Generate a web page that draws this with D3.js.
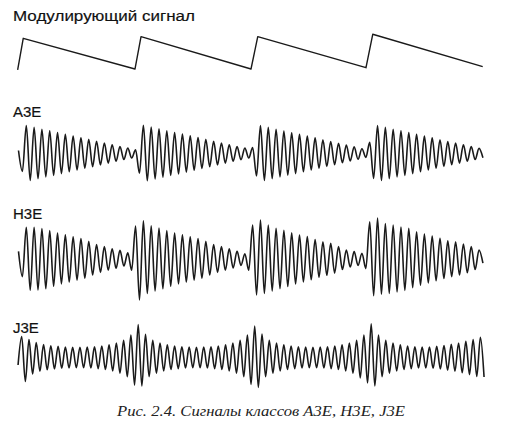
<!DOCTYPE html>
<html><head><meta charset="utf-8">
<script src="https://cdn.jsdelivr.net/npm/d3@7/dist/d3.min.js"></script>
<style>html,body{margin:0;padding:0;background:#fff;}svg{display:block;}</style>
</head><body>
<svg id="c" width="512" height="432"></svg>
<script>
// ---- data (time in modulation periods, amplitudes normalised) ----
const titleText = "Модулирующий сигнал";
const panelLabels = ["A3E", "H3E", "J3E"];
const captionText = "Рис. 2.4. Сигналы классов A3E, H3E, J3E";

// sawtooth modulating signal: breakpoints [time, level]
const sawTimes  = [-0.003, 0.045, 1.004, 1.056, 2.0, 2.058, 2.987, 3.045, 3.989];
const sawLevels = [-0.015, 0.945, 0.015, 0.994, 0.015, 0.994, 0.055, 1.067, 0.085];

// successive extrema (alternating peaks / troughs) of each RF signal
const a3eStart = 0.0043, a3eStep = 0.0335;
const a3eValues = [0.10,-0.60,
 0.93,-0.90,0.87,-0.84,0.81,-0.78,0.76,-0.73,0.70,-0.67,0.64,-0.61,0.58,-0.55,0.52,-0.49,0.47,-0.44,0.41,-0.38,0.35,-0.32,0.29,-0.26,0.23,-0.20,0.18,-0.15,0.12,-0.66,
 0.94,-0.91,0.88,-0.85,0.82,-0.79,0.76,-0.73,0.70,-0.68,0.65,-0.62,0.59,-0.56,0.53,-0.50,0.47,-0.44,0.41,-0.38,0.35,-0.32,0.29,-0.26,0.23,-0.21,0.18,-0.15,0.20,-0.75,
 0.93,-0.90,0.87,-0.84,0.81,-0.78,0.75,-0.72,0.69,-0.67,0.64,-0.61,0.58,-0.55,0.52,-0.49,0.46,-0.43,0.40,-0.37,0.34,-0.31,0.28,-0.25,0.22,-0.19,0.16,-0.13,0.37,-0.83,
 0.93,-0.90,0.87,-0.84,0.81,-0.78,0.76,-0.73,0.70,-0.67,0.64,-0.61,0.58,-0.55,0.52,-0.49,0.46,-0.43,0.40,-0.37,0.35,-0.32,0.29,-0.26,0.23,-0.20,0.17,-0.14];

const h3eStart = 0.0043, h3eStep = 0.0335;
const h3eValues = [0.24,-0.55,
 0.99,-0.98,0.99,-0.97,0.95,-0.93,0.89,-0.85,0.81,-0.78,0.76,-0.72,0.69,-0.66,0.64,-0.60,0.55,-0.50,0.45,-0.42,0.39,-0.35,0.32,-0.29,0.27,-0.22,0.19,-0.35,
 1.03,-1.28,1.19,-1.08,1.04,-1.00,0.97,-0.93,0.89,-0.85,0.81,-0.78,0.76,-0.72,0.69,-0.66,0.64,-0.60,0.55,-0.50,0.45,-0.42,0.39,-0.35,0.32,-0.28,0.24,-0.20,0.16,-0.35,
 1.06,-1.12,1.22,-1.08,1.06,-1.00,0.96,-0.93,0.90,-0.86,0.82,-0.78,0.75,-0.72,0.70,-0.65,0.61,-0.57,0.54,-0.51,0.49,-0.44,0.39,-0.33,0.28,-0.25,0.23,-0.20,0.18,-0.30,
 1.16,-1.15,1.28,-1.10,1.11,-1.08,1.06,-1.03,1.00,-0.98,0.96,-0.90,0.85,-0.82,0.78,-0.75,0.72,-0.68,0.65,-0.61,0.57,-0.55,0.54,-0.50,0.47,-0.43,0.39,-0.33,0.28,-0.13];

const j3eStart = 0.0005, j3eStep = 0.03125;
const j3eValues = [-0.25,
 0.70,-0.80,0.60,-0.55,0.50,-0.46,0.43,-0.41,0.39,-0.38,0.37,-0.36,0.35,-0.35,0.34,-0.34,
 0.34,-0.34,0.35,-0.35,0.36,-0.37,0.38,-0.40,0.42,-0.45,0.48,-0.52,0.57,-0.64,0.75,-0.92,
 1.10,-0.95,0.77,-0.64,0.57,-0.52,0.48,-0.45,0.42,-0.40,0.38,-0.37,0.36,-0.35,0.35,-0.34,
 0.34,-0.34,0.35,-0.35,0.36,-0.37,0.38,-0.40,0.42,-0.45,0.48,-0.52,0.57,-0.64,0.75,-0.90,
 1.05,-1.00,0.78,-0.64,0.57,-0.52,0.48,-0.45,0.42,-0.40,0.38,-0.37,0.36,-0.35,0.35,-0.34,
 0.34,-0.34,0.35,-0.35,0.36,-0.37,0.38,-0.40,0.42,-0.45,0.48,-0.52,0.57,-0.68,0.75,-0.85,
 1.12,-0.95,0.75,-0.64,0.57,-0.52,0.48,-0.45,0.42,-0.40,0.38,-0.37,0.36,-0.35,0.35,-0.35,
 0.35,-0.36,0.37,-0.38,0.40,-0.42,0.44,-0.46,0.48,-0.51,0.54,-0.57,0.60,-0.63,0.67,-0.65];

// ---- drawing ----
const svg = d3.select("#c");
const ink = "#1a1a1a";
const sans = "'Liberation Sans', Arial, sans-serif";
const x = d3.scaleLinear().domain([0, 4]).range([18, 484]);

svg.append("text").attr("x", 13).attr("y", 21)
  .attr("font-family", sans).attr("font-size", 15.5)
  .attr("textLength", 182).attr("lengthAdjust", "spacingAndGlyphs")
  .attr("fill", "#111").attr("stroke", "#111").attr("stroke-width", 0.18)
  .text(titleText);

const ySaw = d3.scaleLinear().domain([0, 1]).range([69.5, 36.5]);
svg.append("path")
  .datum(d3.zip(sawTimes, sawLevels))
  .attr("fill", "none").attr("stroke", ink).attr("stroke-width", 1.4).attr("stroke-linejoin", "round")
  .attr("d", d3.line().x(d => x(d[0])).y(d => ySaw(d[1])));

const panels = [
  {label: panelLabels[0], labelY: 116.5, center: 153.5, half: 30, t0: a3eStart, dt: a3eStep, vals: a3eValues},
  {label: panelLabels[1], labelY: 218.5, center: 259, half: 32, t0: h3eStart, dt: h3eStep, vals: h3eValues},
  {label: panelLabels[2], labelY: 333, center: 357.5, half: 30, t0: j3eStart, dt: j3eStep, vals: j3eValues}
];

panels.forEach(p => {
  svg.append("text").attr("x", 13).attr("y", p.labelY)
    .attr("font-family", sans).attr("font-size", 15)
    .attr("fill", "#111").attr("stroke", "#111").attr("stroke-width", 0.18)
    .text(p.label);
  const y = d3.scaleLinear().domain([-1, 1]).range([p.center + p.half, p.center - p.half]);
  const pts = p.vals.map((v, i) => [p.t0 + i * p.dt, v]);
  svg.append("path").datum(pts)
    .attr("fill", "none").attr("stroke", ink).attr("stroke-width", 1.6).attr("stroke-linejoin", "round")
    .attr("d", d3.line().x(d => x(d[0])).y(d => y(d[1])).curve(d3.curveMonotoneX));
});

svg.append("text").attr("x", 117).attr("y", 416)
  .attr("font-family", "'Liberation Serif', 'Times New Roman', serif").attr("font-style", "italic")
  .attr("font-size", 15).attr("textLength", 288).attr("lengthAdjust", "spacingAndGlyphs")
  .attr("fill", "#222").text(captionText);
</script>
</body></html>
